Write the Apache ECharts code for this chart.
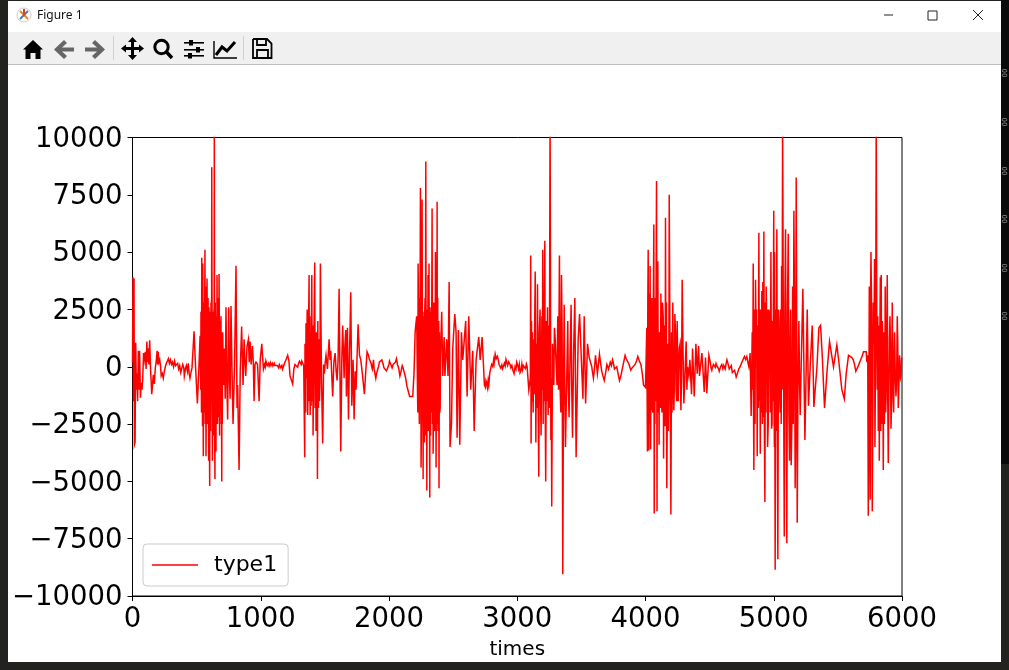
<!DOCTYPE html>
<html><head><meta charset="utf-8">
<style>html,body{margin:0;padding:0;background:#fff}#c{width:1009px;height:670px}</style>
<script src="https://cdn.jsdelivr.net/npm/echarts@6/dist/echarts.min.js"></script>
</head><body><div id="c"></div>
<script>
const seriesName = 'type1';
const xTicks = [0,1000,2000,3000,4000,5000,6000];
const yTicks = [-10000,-7500,-5000,-2500,0,2500,5000,7500,10000];

const startPart = [[0,200],[4,3900],[8,-1500],[12,3850],[15,-3400],[20,-3300],[25,1050],[30,-1000],[35,-300],[40,-1500],[46,700],[50,-1000],[55,700],[62,-1350],[68,-700],[74,-1000],[80,-500],[86,600],[92,300],[100,650],[106,-100],[112,1100],[116,200],[122,800],[128,100],[134,1150],[140,0],[146,-700],[150,-1200],[156,-800],[162,-350],[170,-750],[178,-50],[186,300],[192,700],[196,100],[200,650],[206,200],[212,300],[218,50],[224,-400],[232,-300],[240,-500],[248,-200],[256,0],[264,150],[272,200],[280,350],[288,150],[296,300],[304,100],[312,200],[320,0],[328,250],[336,50],[344,0],[352,150],[360,-100],[368,50],[376,-250],[384,-200],[392,100],[400,-50],[404,-400],[412,-100],[420,50],[428,-200],[435,150],[442,-300],[448,-500],[456,-250],[464,-50]];
const burst1 = [[480,1550],[490,200],[506,-1600],[516,-300],[527,1350],[532,-1000],[540,4750],[544,-800],[548,4500],[552,-3900],[556,2000],[560,-2000],[565,5100],[569,-1500],[573,-3900],[577,2800],[581,3850],[585,-2500],[589,3000],[594,-4100],[598,-1000],[602,-5200],[606,1700],[610,-1500],[614,2000],[618,8700],[623,-4100],[627,600],[631,-3000],[635,2500],[638,11000],[643,-4900],[647,800],[651,-3700],[655,1800],[659,4000],[663,-2500],[667,-1500],[671,3000],[675,4050],[679,-3000],[683,-1000],[688,1000],[692,-2500],[696,-5000],[703,1500],[710,-800],[717,800],[723,-1400],[729,2600],[736,-800],[742,-2300],[750,2600],[756,-500],[761,-1400],[768,2650],[776,-200],[784,-2500],[796,200],[807,4400],[815,-1800],[820,-800],[831,-4500],[840,-200],[851,1750],[862,-800],[870,1200],[877,200],[883,-400],[893,900],[904,1200],[910,200],[917,1100],[925,100],[935,900],[942,200],[948,-1500],[955,100],[963,200],[975,100],[987,-1500],[996,300],[1008,1000],[1016,300],[1021,-100]];
const fill1 = [[534,2400],[538,-2000],[542,3000],[546,-2600],[550,1500],[554,-1500],[558,2800],[562,1400],[567,-2500],[571,3500],[575,-2000],[579,-1800],[583,2200],[587,-1000],[591,1500],[596,2600],[600,-3500],[604,2400],[608,-2800],[612,2800],[616,-1500],[620,3200],[625,-2200],[629,2400],[633,-2000],[637,1000],[640,-2500],[645,2800],[649,-2500],[653,2200],[657,-2000],[661,1800],[665,1000],[669,-2200],[673,-1000],[677,1800],[681,2000],[686,-2000],[690,2200],[694,-1500],[698,1500],[700,-2500]];
const quiet1 = [[1030,100],[1040,250],[1050,50],[1060,150],[1070,100],[1080,50],[1090,150],[1100,80],[1110,50],[1120,100],[1130,50],[1140,-50],[1150,50],[1160,0],[1170,-100],[1180,50],[1190,100],[1200,350],[1210,500],[1220,250],[1228,-400],[1240,-600],[1249,-750],[1258,-100],[1267,100],[1280,50],[1295,150],[1310,200],[1320,250],[1327,300],[1335,50]];
const ripple1 = [[1035,0],[1045,150],[1055,120],[1065,30],[1075,180],[1085,130],[1095,40],[1105,150],[1115,-20],[1125,130],[1135,20],[1145,90],[1155,-40],[1165,60],[1175,-60],[1185,150],[1274,170],[1288,-20],[1302,240],[1315,100]];
const burst2 = [[1343,-3950],[1348,400],[1353,1900],[1358,-500],[1366,-2100],[1371,1000],[1377,4000],[1381,-800],[1385,-2100],[1390,1500],[1398,4000],[1403,-1000],[1408,-3000],[1414,1200],[1421,4550],[1426,-500],[1431,-2800],[1437,1000],[1442,-4900],[1447,-200],[1452,700],[1458,-1500],[1465,4500],[1474,-600],[1483,-3350],[1490,100],[1496,-300],[1503,200],[1509,500],[1520,-100],[1533,1200],[1540,300],[1546,700],[1553,-300],[1561,-1300],[1570,200],[1580,600],[1588,-200],[1595,-600],[1603,300],[1611,3400],[1618,-500],[1624,-3700],[1632,300],[1639,1800],[1650,-500],[1656,900],[1663,1600],[1668,-1300],[1676,1700],[1684,-2300],[1692,500],[1702,3250],[1710,-1700],[1720,300],[1728,-2300],[1736,-200],[1743,-1000],[1752,600],[1759,1850],[1770,500],[1780,300],[1794,-400],[1808,-1200],[1820,-100],[1829,650],[1840,500],[1850,400],[1860,150],[1870,-100],[1879,300],[1888,-200],[1897,-500],[1910,-150],[1925,200],[1935,250],[1944,300],[1955,100],[1965,-100],[1975,-50],[1983,-200],[1995,-100],[2004,250]];
const fill2 = [[1345,1000],[1350,-2000],[1356,1200],[1362,2500],[1369,-1000],[1374,2400],[1379,-1500],[1383,2200],[1388,-900],[1393,-1700],[1396,2200],[1401,-1500],[1406,1800],[1411,-1200],[1417,2500],[1424,-1800],[1429,1500],[1434,-1500],[1440,1500],[1445,2000],[1450,-1800],[1455,1200],[1461,-800]];
const ripple2 = [[1846,350],[1855,420],[1865,0],[1875,120],[1884,-100],[1892,-350],[1903,-300],[1918,0],[1930,120],[1940,180],[1950,340],[1960,-40],[1970,40],[1979,-180],[1989,-60],[1999,90]];
const quiet2 = [[2010,200],[2018,200],[2024,-50],[2032,100],[2040,150],[2050,200],[2058,350],[2066,100],[2075,-50],[2085,-400],[2094,-200],[2103,50],[2110,-50],[2120,-100],[2130,-500],[2140,-850],[2150,-900],[2161,-1300],[2170,-1350],[2185,-1300],[2195,-300]];
const burst3 = [[2204,1550],[2216,2200],[2222,-1000],[2227,4500],[2234,-1600],[2240,3000],[2245,7800],[2250,-4400],[2258,7300],[2262,-1000],[2266,-4900],[2272,-2000],[2276,-3300],[2281,3000],[2287,8950],[2295,-5400],[2300,-500],[2304,4000],[2310,1000],[2312,4500],[2316,-2000],[2318,-5700],[2322,1000],[2326,2300],[2331,-2000],[2336,6900],[2344,-3800],[2350,1500],[2354,-1000],[2362,5000],[2367,-4400],[2371,2500],[2375,7200],[2380,3000],[2385,1000],[2390,-5300],[2396,-2000],[2402,500],[2411,2400],[2419,-400],[2430,1300],[2436,-400],[2450,1200],[2460,-400],[2469,3700],[2476,-3500],[2487,-2500],[2497,800],[2513,2300],[2523,1500],[2531,-3100],[2541,1600],[2552,-3400],[2565,1500],[2575,300],[2598,2000],[2609,-1300],[2622,2200],[2637,-1000],[2653,700],[2664,-2800],[2679,300],[2700,1300],[2711,300],[2726,1300],[2744,-800],[2752,-900],[2762,-700],[2768,-900],[2778,-800],[2785,-300],[2809,0],[2828,550],[2845,450],[2866,50],[2892,0],[2918,300],[2944,100],[2975,-300],[2996,200],[3022,-250],[3048,50],[3077,0]];
const fill3 = [[2225,-2000],[2230,2500],[2237,-2500],[2242,2000],[2248,2800],[2254,-2000],[2256,2500],[2260,2000],[2264,2200],[2268,1000],[2274,2400],[2278,2200],[2283,-3000],[2290,-1500],[2292,2500],[2298,2400],[2302,-2500],[2306,-1800],[2308,-2800],[2314,-1500],[2320,2600],[2324,-3000],[2328,2400],[2333,1800],[2339,-2500],[2342,2800],[2347,-2200],[2352,2800],[2357,-2800],[2360,-1500],[2365,2600],[2369,-1500],[2373,-2500],[2377,-800],[2382,-2800],[2388,2000],[2393,1500],[2399,-1800]];
const ripple3 = [[2756,-600],[2773,-600],[2792,-100],[2800,100],[2816,300],[2820,150],[2836,350],[2852,300],[2858,100],[2872,-60],[2880,80],[2886,-80],[2900,150],[2906,40],[2912,320],[2925,60],[2933,220],[2950,-40],[2958,60],[2966,-150],[2983,0],[2990,-100],[3004,60],[3010,-100],[3016,100],[3030,-150],[3036,120],[3042,-120],[3056,100],[3064,-80],[3071,120]];
const burst4 = [[3090,-1000],[3105,4850],[3108,-3350],[3118,1500],[3124,-2000],[3140,4150],[3145,-3300],[3158,3600],[3168,-4800],[3178,2500],[3186,-3000],[3199,5100],[3205,2000],[3215,5500],[3222,-5000],[3236,2600],[3241,-2100],[3256,11000],[3262,-3200],[3269,-6100],[3280,0],[3290,1700],[3303,100],[3316,2200],[3329,4850],[3334,-900],[3345,4000],[3355,-9050],[3366,2700],[3376,-3500],[3394,2000],[3404,-2200],[3420,2700],[3431,-3100],[3449,3000],[3459,-3950],[3475,1200],[3486,2300],[3512,-1400],[3522,2200],[3533,-1600],[3548,1000],[3561,400],[3581,0],[3594,-500],[3610,500],[3625,-300],[3641,550],[3659,-200],[3678,-600],[3699,100],[3712,-100],[3725,200],[3743,300],[3758,-100],[3776,0],[3797,-600],[3815,-200],[3841,500],[3859,300],[3885,-150],[3919,100],[3940,450],[3964,100],[3985,-800],[4000,-900]];
const fill4 = [[3102,-500],[3111,2000],[3114,-1500],[3121,-1000],[3128,1200],[3132,-1200],[3136,2000],[3150,1000],[3154,-1800],[3162,-1000],[3172,1500],[3182,-1500],[3192,2200],[3196,-1000],[3202,-2500],[3208,-1500],[3211,2800],[3218,-1800],[3228,2000],[3232,-1500],[3246,1800],[3250,-1800],[3265,-500],[3275,1000],[3285,-800],[3296,1200],[3310,-800],[3322,-1000],[3340,-2000],[3350,1500],[3360,-1500],[3371,-1000],[3385,-800],[3398,-800],[3412,500],[3425,-1000],[3440,800]];
const ripple4 = [[3587,-250],[3602,-100],[3618,100],[3633,100],[3650,150],[3668,-400],[3688,-300],[3705,50],[3718,-50],[3734,50],[3750,150],[3767,-150],[3786,-300],[3806,-450],[3828,150],[3850,350],[3872,100],[3895,-50],[3907,-100],[3930,250],[3952,250],[3975,-300]];
const burst5 = [[4010,1700],[4015,-3700],[4021,5100],[4026,-3650],[4036,4400],[4040,-3600],[4049,3000],[4057,-2000],[4065,6200],[4068,-6400],[4075,3000],[4086,8100],[4090,-6300],[4096,4600],[4106,-3400],[4112,1500],[4120,3200],[4125,1000],[4138,2200],[4141,-4000],[4150,1000],[4156,6500],[4166,-5300],[4174,1000],[4185,7500],[4198,-6450],[4213,2800],[4221,-1900],[4229,2300],[4239,-1000],[4247,2000],[4263,800],[4276,-1900],[4286,3800],[4299,-1600],[4317,1100],[4328,0],[4338,-400],[4346,300],[4359,-1200],[4367,800],[4380,-1300],[4393,1000],[4403,-300],[4414,900],[4421,-400],[4440,600],[4458,-1100],[4468,400],[4478,-1150],[4494,500],[4517,-150],[4530,100],[4556,50],[4575,-200],[4595,100],[4621,-100],[4635,300],[4660,-150],[4686,-300],[4707,-450],[4738,0],[4772,450],[4790,450],[4806,0],[4816,600]];
const fill5 = [[4018,2800],[4024,-1500],[4029,3200],[4033,-2500],[4044,2500],[4052,-1800],[4060,1500],[4070,1800],[4073,-2500],[4079,-1500],[4082,2800],[4092,2500],[4100,-2000],[4103,1500],[4109,1500],[4116,-1800],[4123,-1000],[4128,-2000],[4132,2800],[4145,1800],[4153,-2600],[4160,-1500],[4163,2800],[4170,-2000],[4178,-2800],[4182,-1000],[4190,1800],[4194,-2500],[4203,1500],[4207,-2000],[4217,-500],[4225,-800],[4234,1500],[4243,-1500],[4255,-1500],[4270,1000],[4281,-500],[4292,1000],[4305,-800],[4323,-1000]];
const ripple5 = [[4505,200],[4511,-50],[4523,0],[4537,150],[4544,-30],[4550,140],[4563,120],[4569,-80],[4585,0],[4603,-80],[4610,60],[4628,120],[4647,60],[4653,-100],[4669,50],[4677,-250],[4695,-150],[4716,-300],[4727,-100],[4748,150],[4759,100],[4781,320],[4798,200]];
const burst6 = [[4824,-2150],[4840,4500],[4845,-4500],[4858,3800],[4871,-3900],[4884,5850],[4895,-3800],[4907,3300],[4915,3700],[4923,5900],[4931,-5900],[4941,3500],[4952,-3500],[4967,2300],[4978,5000],[4983,-2700],[4990,2000],[5000,6800],[5005,-3500],[5006,5000],[5011,-8850],[5024,6000],[5032,-8400],[5045,-1000],[5061,4400],[5069,11000],[5074,3000],[5082,-7400],[5092,6000],[5102,-7700],[5113,5800],[5123,-4100],[5136,-4300],[5147,3500],[5157,6800],[5167,-5300],[5175,8250],[5183,-6800],[5196,2000],[5206,-2100],[5227,3400],[5243,-3200],[5261,2500],[5271,-1700],[5284,0],[5300,1800],[5313,-1750],[5323,-1000],[5336,-100],[5352,1700],[5365,1800],[5378,500],[5396,-1800],[5414,-300],[5435,1100],[5466,0],[5492,950],[5505,350],[5531,-1000],[5550,-1400],[5565,-300],[5583,500],[5609,400],[5648,-150],[5674,250],[5700,650],[5721,650],[5726,200]];
const fill6 = [[4832,1500],[4836,-1000],[4842,-1500],[4850,2500],[4854,-2500],[4862,1500],[4866,2500],[4875,1800],[4880,-1800],[4888,-1500],[4891,2500],[4899,2500],[4903,-2000],[4911,-2500],[4919,-2200],[4927,-2800],[4935,2800],[4938,-2000],[4946,1500],[4949,2500],[4957,-2500],[4961,2500],[4973,-2000],[4987,-2500],[4994,-1500],[4997,2500],[5002,-1000],[5015,2500],[5019,-2800],[5028,-2800],[5037,2500],[5041,2000],[5050,-2000],[5054,2500],[5058,-2500],[5065,-1000],[5078,-2000],[5087,2800],[5097,-1500],[5107,2500],[5118,-2000],[5127,1000],[5131,2500],[5141,-2500],[5152,-2500],[5162,2500],[5171,-2500],[5179,2000],[5188,-1500],[5201,-500]];
const ripple6 = [[5596,450],[5620,300],[5630,100],[5640,-200],[5660,50],[5688,450]];
const burst7 = [[5737,-6500],[5745,3500],[5752,-5800],[5758,5000],[5768,-6300],[5781,1000],[5786,4700],[5792,-1000],[5799,11000],[5807,-1000],[5823,-4100],[5831,3900],[5838,4000],[5854,-4500],[5869,3500],[5877,-1000],[5885,4000],[5893,-4200],[5906,2200],[5914,-2700],[5924,2800],[5935,-2000],[5942,1500],[5953,-1300],[5963,2200],[5971,-1800],[5981,500],[5989,-500],[5997,400]];
const fill7 = [[5733,500],[5741,-2500],[5748,-1500],[5755,2500],[5763,2500],[5772,-2500],[5776,2800],[5789,-3500],[5795,1500],[5803,2500],[5811,2200],[5815,-2800],[5819,1800],[5827,1200],[5834,-2800],[5842,-2500],[5846,2000],[5850,1200],[5858,1500],[5862,-2500],[5866,-1500],[5873,-2000],[5881,1500],[5889,-1500],[5898,-1000],[5902,1200],[5910,1000],[5919,-1500],[5929,-800],[5939,800],[5948,-500],[5958,-600],[5967,1000],[5976,-800],[5985,-400],[5993,-300]];

const allPoints = [].concat(startPart,burst1,fill1,quiet1,ripple1,burst2,fill2,ripple2,quiet2,burst3,fill3,ripple3,burst4,fill4,ripple4,burst5,fill5,ripple5,burst6,fill6,ripple6,burst7,fill7).sort((a,b)=>a[0]-b[0]);

function poly(pts,fill){return {type:'polygon',silent:true,shape:{points:pts},style:{fill:fill}};}
function pline(pts,lw,stroke){return {type:'polyline',silent:true,shape:{points:pts},style:{fill:'none',stroke:stroke||'#000',lineWidth:lw}};}
const chrome = [
 {type:'rect',silent:true,z:-10,shape:{x:0,y:0,width:1009,height:670},style:{fill:'#22221e'}},
 {type:'rect',silent:true,z:-9,shape:{x:1001,y:0,width:8,height:464},style:{fill:'#0a0a0a'}},
 {type:'rect',silent:true,z:-8,shape:{x:8,y:1,width:993,height:661},style:{fill:'#ffffff'}},
 {type:'rect',silent:true,z:-7,shape:{x:8,y:32,width:993,height:32},style:{fill:'#f0f0f0'}},
 {type:'rect',silent:true,z:-7,shape:{x:8,y:64,width:993,height:1},style:{fill:'#bdbdbd'}},
 {type:'text',silent:true,style:{x:37,y:15.5,text:'Figure 1',fill:'#111',font:'12px "Noto Sans"',verticalAlign:'middle'}},
 {type:'circle',silent:true,shape:{cx:24,cy:15,r:7},style:{fill:'#fff',stroke:'#ccc',lineWidth:1}},
 pline([[20,11],[28,19]],2,'#e8862a'),
 pline([[28,11],[20,19]],2,'#3a7fc0'),
 pline([[24,9],[24,15]],2,'#e0402a'),
 {type:'line',silent:true,shape:{x1:884,y1:15,x2:893,y2:15},style:{stroke:'#222',lineWidth:1}},
 {type:'rect',silent:true,shape:{x:928,y:11,width:9,height:9},style:{fill:'none',stroke:'#222',lineWidth:1}},
 pline([[973,10],[983,20]],1,'#222'),
 pline([[983,10],[973,20]],1,'#222'),
 {type:'line',silent:true,shape:{x1:113.5,y1:36,x2:113.5,y2:60},style:{stroke:'#d0d0d0',lineWidth:1}},
 {type:'line',silent:true,shape:{x1:243.5,y1:36,x2:243.5,y2:60},style:{stroke:'#d0d0d0',lineWidth:1}},
 // home
 poly([[33,40],[43,49.5],[40.5,49.5],[40.5,59],[35.5,59],[35.5,53],[30.5,53],[30.5,59],[25.5,59],[25.5,49.5],[23,49.5]],'#000'),
 // back / forward
 poly([[64,40],[67,43],[62,47.5],[74,47.5],[74,51.5],[62,51.5],[67,56],[64,59],[54,49.5]],'#666'),
 poly([[95,40],[92,43],[97,47.5],[85,47.5],[85,51.5],[97,51.5],[92,56],[95,59],[105,49.5]],'#666'),
 // move
 poly([[132.5,37],[137,42],[134,42],[134,47],[139,47],[139,44.5],[144,48.5],[139,52.5],[139,50],[134,50],[134,55],[137,55],[132.5,60],[128,55],[131,55],[131,50],[126,50],[126,52.5],[121,48.5],[126,44.5],[126,47],[131,47],[131,42],[128,42]],'#000'),
 // zoom
 {type:'circle',silent:true,shape:{cx:161.5,cy:47,r:6.7},style:{fill:'none',stroke:'#000',lineWidth:3}},
 {type:'line',silent:true,shape:{x1:166.5,y1:52,x2:172,y2:58},style:{stroke:'#000',lineWidth:3.4}},
 // sliders
 {type:'rect',silent:true,shape:{x:184,y:42,width:20,height:1.6},style:{fill:'#000'}},
 {type:'rect',silent:true,shape:{x:184,y:49,width:20,height:1.6},style:{fill:'#000'}},
 {type:'rect',silent:true,shape:{x:184,y:55,width:20,height:1.6},style:{fill:'#000'}},
 {type:'rect',silent:true,shape:{x:189,y:40,width:4,height:5.5},style:{fill:'#000'}},
 {type:'rect',silent:true,shape:{x:196,y:47,width:4,height:5.5},style:{fill:'#000'}},
 {type:'rect',silent:true,shape:{x:188,y:53,width:4,height:5.5},style:{fill:'#000'}},
 // graph
 pline([[214,41],[214,58],[237,58]],1.4),
 pline([[216,55],[222,47],[227,51],[235,42]],3),
 // save
 pline([[253,39],[267,39],[271.5,43.5],[271.5,58],[253,58],[253,39]],1.8),
 pline([[257,39],[257,45],[266,45],[266,39]],1.8),
 pline([[257,58],[257,50],[268,50],[268,58]],1.8),
];
[73,122,171,219,268,316].forEach(y=>chrome.push({type:'text',silent:true,rotation:-Math.PI/2,x:1004,y:y,style:{text:'00',fill:'#999',font:'7px "DejaVu Sans"',align:'center',verticalAlign:'middle'}}));

const chart = echarts.init(document.getElementById('c'),null,{renderer:'canvas'});
const minus = v => String(v).replace('-','\u2212');
chart.setOption({
 animation:false,
 backgroundColor:'transparent',
 textStyle:{fontFamily:'DejaVu Sans'},
 grid:{left:132.5,top:137.5,width:769.5,height:458.5,show:true,borderColor:'#000',borderWidth:1,backgroundColor:'#fff'},
 graphic:{elements:chrome},
 legend:{left:143,top:544,orient:'horizontal',data:[{name:seriesName,icon:'rect'}],itemWidth:46,itemHeight:1.5,itemGap:0,
   padding:[10,11,10,9],backgroundColor:'#fff',borderColor:'#ccc',borderWidth:1,borderRadius:4,
   itemStyle:{color:'#ff0000'},
   textStyle:{fontSize:22,color:'#000',fontFamily:'DejaVu Sans',padding:[0,0,0,11]}},
 xAxis:{type:'value',min:0,max:6000,interval:1000,name:'times',nameLocation:'middle',nameGap:44,
   nameTextStyle:{fontSize:20,color:'#000',fontFamily:'DejaVu Sans'},
   axisLine:{show:true,onZero:false,lineStyle:{color:'#000'}},axisTick:{length:5,lineStyle:{color:'#000'}},
   axisLabel:{fontSize:27.5,color:'#000',margin:10,showMinLabel:true,showMaxLabel:true,fontFamily:'DejaVu Sans',formatter:minus},splitLine:{show:false}},
 yAxis:{type:'value',min:-10000,max:10000,interval:2500,
   axisLine:{show:true,onZero:false,lineStyle:{color:'#000'}},axisTick:{show:true,length:5,lineStyle:{color:'#000'}},
   axisLabel:{fontSize:27.5,color:'#000',margin:10,verticalAlign:'top',lineHeight:4,showMinLabel:true,showMaxLabel:true,fontFamily:'DejaVu Sans',formatter:minus},splitLine:{show:false}},
 series:[{name:seriesName,type:'line',data:allPoints,symbol:'none',smooth:false,clip:true,sampling:false,
   lineStyle:{color:'#ff0000',width:1.5,join:'miter'},itemStyle:{color:'#ff0000'}}]
});
</script></body></html>
